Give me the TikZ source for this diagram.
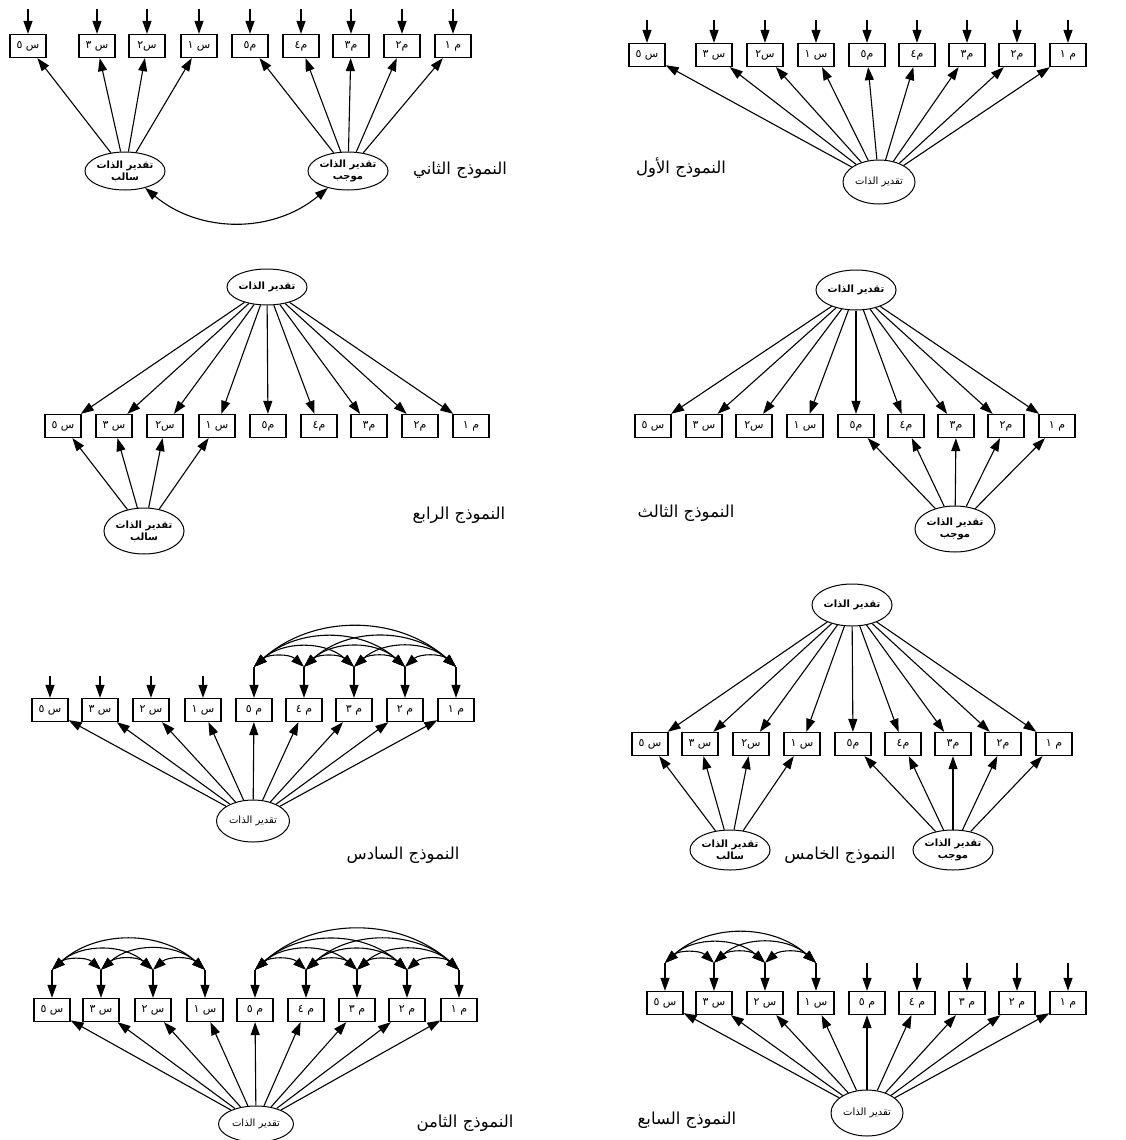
\documentclass[tikz,border=0pt]{standalone}
\usepackage{fontspec}
\usepackage{tikz}
\usetikzlibrary{positioning, shapes, arrows.meta}
\TeXXeTstate=1
\newfontfamily\arabicfont[Script=Arabic]{DejaVu Sans}
\newcommand{\artxt}[1]{\beginR #1\endR}
\tikzset{
  ind/.style={draw, rectangle, line width=1.3pt, minimum width=36pt, minimum height=23pt, inner sep=0pt, font=\arabicfont\fontsize{11}{12}\selectfont},
  fac/.style={draw, ellipse, line width=1pt, minimum width=72pt, minimum height=42pt, inner sep=0pt, align=center, font=\arabicfont\fontsize{10}{12}\selectfont},
  facb/.style={fac, font=\arabicfont\bfseries\fontsize{10}{12}\selectfont},
  lnk/.style={-{Triangle[length=13pt,width=9pt]}, line width=1.1pt},
  cov/.style={{Triangle[length=13pt,width=9pt]}-{Triangle[length=13pt,width=9pt]}, line width=1.1pt, bend left=42},
  ttl/.style={font=\arabicfont\fontsize{16.5}{18}\selectfont}
}
\begin{document}
\begin{tikzpicture}[x=1pt, y=-1pt]
  \useasboundingbox (0,0) rectangle (1126,1140);

  % first model
  \foreach \nm/\xx/\tx in {s5/647/{س ٥}, s3/714/{س ٣}, s2/765/{س٢}, s1/816/{س ١}, m5/867/{م٥}, m4/917/{م٤}, m3/967/{م٣}, m2/1017/{م٢}, m1/1068/{م ١}}
    \node (p1\nm) [ind] at (\xx,55) {\artxt{\tx}};
  \node (p1f) [fac, minimum height=44pt] at (879,182) {\artxt{تقدير الذات}};
  \foreach \nm in {s5,s3,s2,s1,m5,m4,m3,m2,m1} {
    \coordinate (p1e\nm) at ([yshift=23pt]p1\nm.north);
    \draw[lnk] (p1e\nm) -- (p1\nm);
    \draw[lnk] (p1f) -- (p1\nm);
  }
  \node (p1t) [ttl] at (681,168) {\artxt{النموذج الأول}};

  % second model
  \foreach \nm/\xx/\tx in {s5/28/{س ٥}, s3/97/{س ٣}, s2/147/{س٢}, s1/199/{س ١}, m5/250/{م٥}, m4/301/{م٤}, m3/351/{م٣}, m2/402/{م٢}, m1/453/{م ١}}
    \node (p2\nm) [ind] at (\xx,46) {\artxt{\tx}};
  \node (p2neg) [facb, minimum width=67pt, minimum height=38pt] at (125,171) {\artxt{تقدير الذات}\\\artxt{سالب}};
  \node (p2pos) [facb, minimum width=67pt, minimum height=38pt] at (348,171) {\artxt{تقدير الذات}\\\artxt{موجب}};
  \foreach \nm in {s5,s3,s2,s1,m5,m4,m3,m2,m1} {
    \coordinate (p2e\nm) at ([yshift=25pt]p2\nm.north);
    \draw[lnk] (p2e\nm) -- (p2\nm);
  }
  \foreach \nm in {s5,s3,s2,s1} \draw[lnk] (p2neg) -- (p2\nm);
  \foreach \nm in {m5,m4,m3,m2,m1} \draw[lnk] (p2pos) -- (p2\nm);
  \draw[cov, bend left=-40] (p2neg) to (p2pos);
  \node (p2t) [ttl] at (460,170) {\artxt{النموذج الثاني}};

  % third model
  \node (p3f) [facb, minimum height=40pt] at (856,290) {\artxt{تقدير الذات}};
  \foreach \nm/\xx/\tx in {s5/653/{س ٥}, s3/704/{س ٣}, s2/754/{س٢}, s1/805/{س ١}, m5/856/{م٥}, m4/906/{م٤}, m3/956/{م٣}, m2/1006/{م٢}, m1/1057/{م ١}}
    \node (p3\nm) [ind] at (\xx,426) {\artxt{\tx}};
  \node (p3pos) [facb, minimum height=46pt] at (955,529) {\artxt{تقدير الذات}\\\artxt{موجب}};
  \foreach \nm in {s5,s3,s2,s1,m5,m4,m3,m2,m1} \draw[lnk] (p3f) -- (p3\nm);
  \foreach \nm in {m5,m4,m3,m2,m1} \draw[lnk] (p3pos) -- (p3\nm);
  \node (p3t) [ttl] at (686,513) {\artxt{النموذج الثالث}};

  % fourth model
  \node (p4f) [facb, minimum width=70pt, minimum height=36pt] at (267,287) {\artxt{تقدير الذات}};
  \foreach \nm/\xx/\tx in {s5/63/{س ٥}, s3/114/{س ٣}, s2/165/{س٢}, s1/217/{س ١}, m5/268/{م٥}, m4/319/{م٤}, m3/369/{م٣}, m2/420/{م٢}, m1/471/{م ١}}
    \node (p4\nm) [ind] at (\xx,426) {\artxt{\tx}};
  \node (p4neg) [facb, minimum width=74pt, minimum height=46pt] at (144,531) {\artxt{تقدير الذات}\\\artxt{سالب}};
  \foreach \nm in {s5,s3,s2,s1,m5,m4,m3,m2,m1} \draw[lnk] (p4f) -- (p4\nm);
  \foreach \nm in {s5,s3,s2,s1} \draw[lnk] (p4neg) -- (p4\nm);
  \node (p4t) [ttl] at (459,515) {\artxt{النموذج الرابع}};

  % fifth model
  \node (p5f) [facb] at (852,605) {\artxt{تقدير الذات}};
  \foreach \nm/\xx/\tx in {s5/650/{س ٥}, s3/700/{س ٣}, s2/751/{س٢}, s1/802/{س ١}, m5/853/{م٥}, m4/903/{م٤}, m3/953/{م٣}, m2/1003/{م٢}, m1/1054/{م ١}}
    \node (p5\nm) [ind] at (\xx,744) {\artxt{\tx}};
  \node (p5neg) [facb, minimum width=74pt, minimum height=40pt] at (730,850) {\artxt{تقدير الذات}\\\artxt{سالب}};
  \node (p5pos) [facb, minimum width=74pt, minimum height=40pt] at (953,850) {\artxt{تقدير الذات}\\\artxt{موجب}};
  \foreach \nm in {s5,s3,s2,s1,m5,m4,m3,m2,m1} \draw[lnk] (p5f) -- (p5\nm);
  \foreach \nm in {s5,s3,s2,s1} \draw[lnk] (p5neg) -- (p5\nm);
  \foreach \nm in {m5,m4,m3,m2,m1} \draw[lnk] (p5pos) -- (p5\nm);
  \node (p5t) [ttl] at (840,855) {\artxt{النموذج الخامس}};

  % sixth model
  \foreach \nm/\xx/\tx in {s5/50/{س ٥}, s3/100/{س ٣}, s2/151/{س ٢}, s1/203/{س ١}, m5/254/{م ٥}, m4/304/{م ٤}, m3/354/{م ٣}, m2/405/{م ٢}, m1/456/{م ١}}
    \node (p6\nm) [ind] at (\xx,710) {\artxt{\tx}};
  \node (p6f) [fac, minimum width=73pt] at (253,821) {\artxt{تقدير الذات}};
  \foreach \nm in {s5,s3,s2,s1} \coordinate (p6e\nm) at ([yshift=22pt]p6\nm.north);
  \foreach \nm in {m5,m4,m3,m2,m1} \coordinate (p6e\nm) at ([yshift=31pt]p6\nm.north);
  \foreach \nm in {s5,s3,s2,s1,m5,m4,m3,m2,m1} {
    \draw[lnk] (p6e\nm) -- (p6\nm);
    \draw[lnk] (p6f) -- (p6\nm);
  }
  \foreach \a/\b in {m5/m4, m4/m3, m3/m2, m2/m1, m5/m3, m4/m2, m3/m1, m5/m2, m4/m1, m5/m1}
    \draw[cov] (p6e\a) to (p6e\b);
  \node (p6t) [ttl] at (403,855) {\artxt{النموذج السادس}};

  % seventh model
  \foreach \nm/\xx/\tx in {s5/665/{س ٥}, s3/714/{س ٣}, s2/765/{س ٢}, s1/816/{س ١}, m5/867/{م ٥}, m4/917/{م ٤}, m3/967/{م ٣}, m2/1017/{م ٢}, m1/1068/{م ١}}
    \node (p7\nm) [ind] at (\xx,1003) {\artxt{\tx}};
  \node (p7f) [fac, minimum height=46pt] at (867,1113) {\artxt{تقدير الذات}};
  \foreach \nm in {s5,s3,s2,s1,m5,m4,m3,m2,m1} {
    \coordinate (p7e\nm) at ([yshift=28pt]p7\nm.north);
    \draw[lnk] (p7e\nm) -- (p7\nm);
    \draw[lnk] (p7f) -- (p7\nm);
  }
  \foreach \a/\b in {s5/s3, s3/s2, s2/s1, s5/s2, s3/s1, s5/s1}
    \draw[cov] (p7e\a) to (p7e\b);
  \node (p7t) [ttl] at (687,1120) {\artxt{النموذج السابع}};

  % eighth model
  \foreach \nm/\xx/\tx in {s5/52/{س ٥}, s3/101/{س ٣}, s2/153/{س ٢}, s1/205/{س ١}, m5/255/{م ٥}, m4/306/{م ٤}, m3/357/{م ٣}, m2/407/{م ٢}, m1/459/{م ١}}
    \node (p8\nm) [ind] at (\xx,1010) {\artxt{\tx}};
  \node (p8f) [fac, minimum width=75pt, minimum height=36pt] at (256,1124) {\artxt{تقدير الذات}};
  \foreach \nm in {s5,s3,s2,s1,m5,m4,m3,m2,m1} {
    \coordinate (p8e\nm) at ([yshift=28pt]p8\nm.north);
    \draw[lnk] (p8e\nm) -- (p8\nm);
    \draw[lnk] (p8f) -- (p8\nm);
  }
  \foreach \a/\b in {s5/s3, s3/s2, s2/s1, s5/s2, s3/s1, s5/s1, m5/m4, m4/m3, m3/m2, m2/m1, m5/m3, m4/m2, m3/m1, m5/m2, m4/m1, m5/m1}
    \draw[cov] (p8e\a) to (p8e\b);
  \node (p8t) [ttl] at (465,1123) {\artxt{النموذج الثامن}};
\end{tikzpicture}
\end{document}
